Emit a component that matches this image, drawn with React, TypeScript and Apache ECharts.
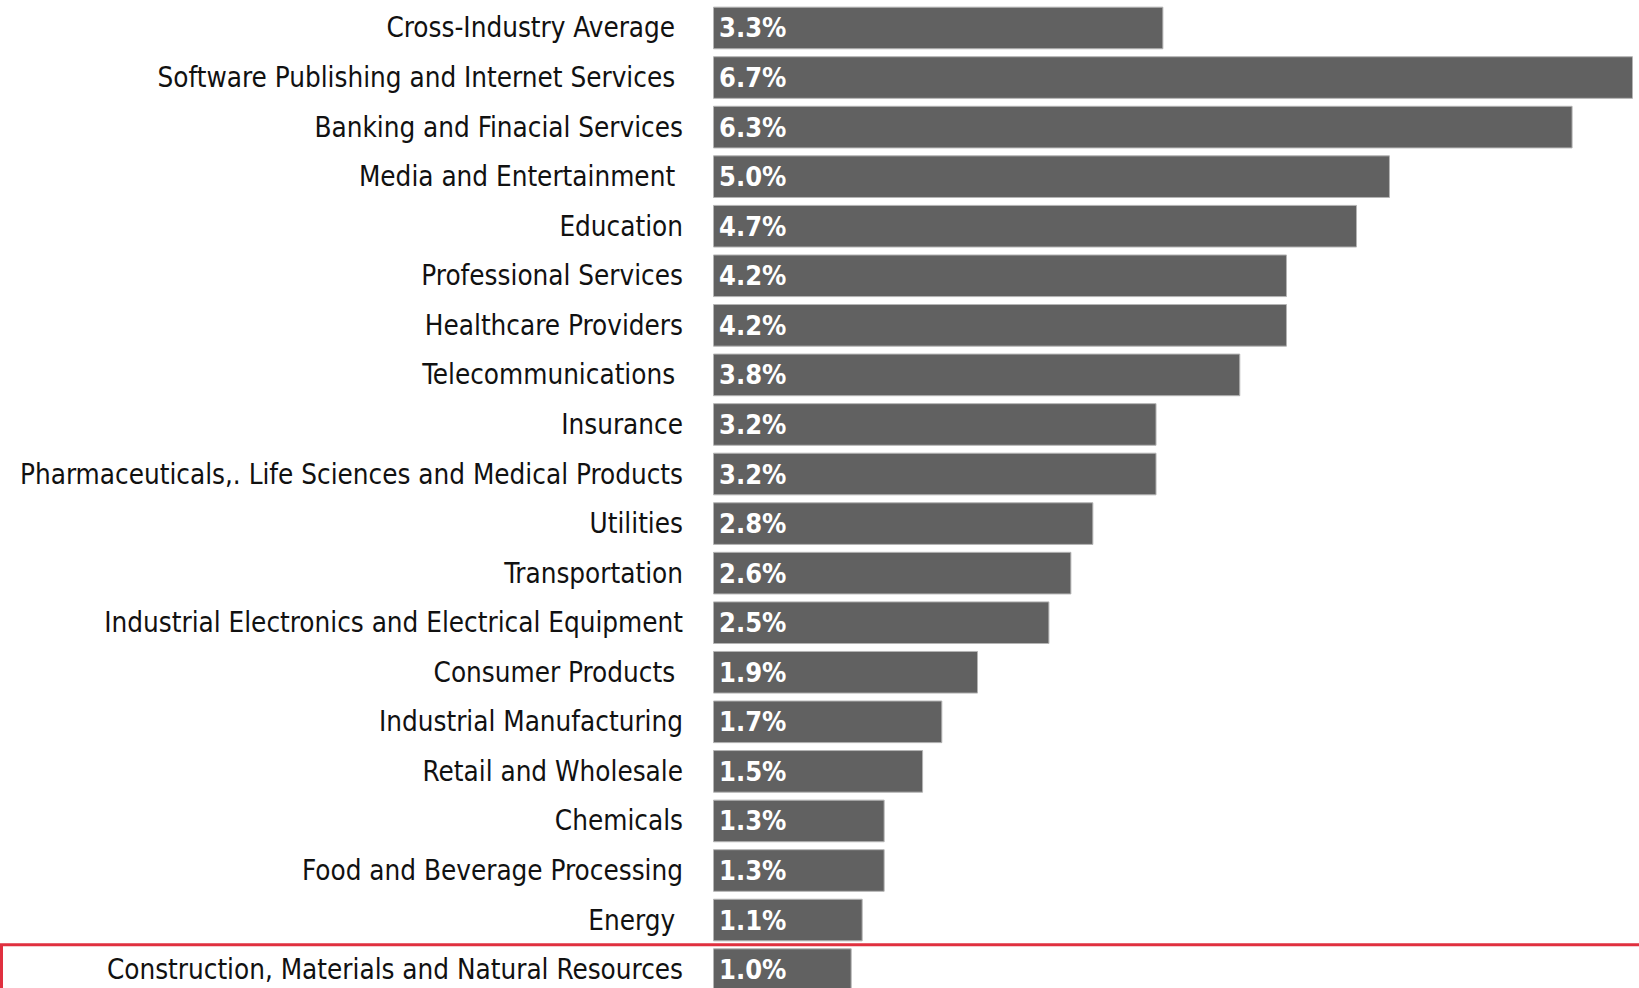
import React, { useEffect, useRef } from "react";
import * as echarts from "echarts";

const categories: string[] = [
  "Cross-Industry Average ",
  "Software Publishing and Internet Services ",
  "Banking and Finacial Services",
  "Media and Entertainment ",
  "Education",
  "Professional Services",
  "Healthcare Providers",
  "Telecommunications ",
  "Insurance",
  "Pharmaceuticals,. Life Sciences and Medical Products",
  "Utilities",
  "Transportation",
  "Industrial Electronics and Electrical Equipment",
  "Consumer Products ",
  "Industrial Manufacturing",
  "Retail and Wholesale",
  "Chemicals",
  "Food and Beverage Processing",
  "Energy ",
  "Construction, Materials and Natural Resources",
];

// bar lengths (percent)
const values: number[] = [3.28, 6.7, 6.26, 4.93, 4.69, 4.18, 4.18, 3.84, 3.23, 3.23, 2.77, 2.61, 2.45, 1.93, 1.67, 1.53, 1.25, 1.25, 1.09, 1.01];

// printed labels
const valueLabels: string[] = ["3.3%", "6.7%", "6.3%", "5.0%", "4.7%", "4.2%", "4.2%", "3.8%", "3.2%", "3.2%", "2.8%", "2.6%", "2.5%", "1.9%", "1.7%", "1.5%", "1.3%", "1.3%", "1.1%", "1.0%"];

const highlightIndex = 19;

const FONT = "'Liberation Sans Narrow', 'DejaVu Sans Condensed', 'Noto Sans', sans-serif";

export default function App() {
  const ref = useRef<HTMLDivElement>(null);
  useEffect(() => {
    if (!ref.current) return;
    const chart = echarts.init(ref.current, null, { renderer: "svg" });
    chart.setOption({
      animation: false,
      backgroundColor: "#ffffff",
      grid: { left: 713, right: 6, top: 3.2, height: 991.2, outerBoundsMode: "none", containLabel: false },
      xAxis: {
        type: "value",
        min: 0,
        max: 6.7,
        show: false,
      },
      yAxis: {
        type: "category",
        inverse: true,
        data: categories,
        axisLine: { show: false },
        axisTick: { show: false },
        splitLine: { show: false },
        axisLabel: {
          margin: 30,
          color: "#111111",
          fontFamily: FONT,
          fontSize: 27.6,
          padding: [4, 0, 0, 0],
        },
      },
      series: [
        {
          type: "bar",
          data: values,
          barCategoryGap: "14%",
          itemStyle: { color: "#616161", borderColor: "#b4b4b4", borderWidth: 1 },
          label: {
            show: true,
            position: "insideLeft",
            distance: 6,
            color: "#ffffff",
            fontFamily: FONT,
            fontWeight: "bold",
            fontSize: 27,
            padding: [4, 0, 0, 0],
            formatter: (p: any) => valueLabels[p.dataIndex],
          },
        },
      ],
    });
    const yc = chart.convertToPixel({ yAxisIndex: 0 }, highlightIndex) as number;
    const yPrev = chart.convertToPixel({ yAxisIndex: 0 }, highlightIndex - 1) as number;
    const pitch = yc - yPrev;
    const w = chart.getWidth();
    chart.setOption({
      graphic: [
        {
          type: "rect",
          shape: { x: 1.5, y: yc - pitch / 2, width: w + 10, height: pitch + 10 },
          style: { fill: "none", stroke: "#e0303f", lineWidth: 3 },
          z: 10,
        },
      ],
    });
    return () => chart.dispose();
  }, []);
  return <div ref={ref} style={{ width: 1639, height: 988, position: "fixed", left: 0, top: 0 }} />;
}
